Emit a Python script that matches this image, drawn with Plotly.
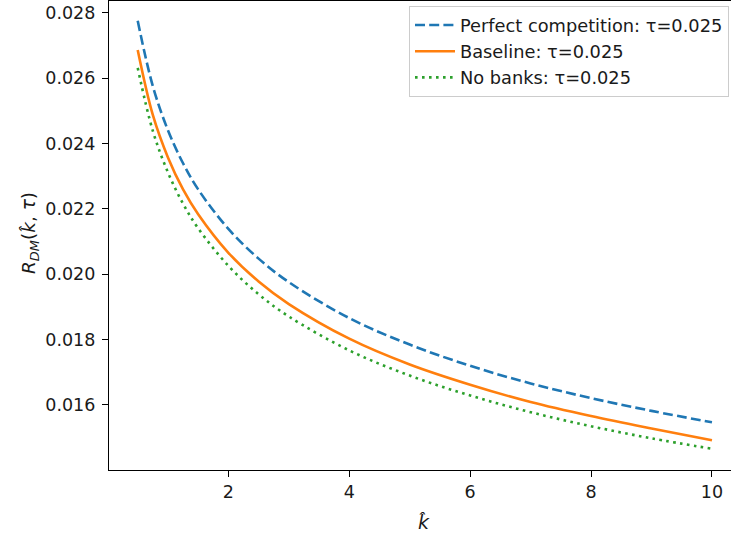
import plotly.graph_objects as go

# Data
k_hat = [0.5, 0.75, 1.0, 1.25, 1.5, 2.0, 2.5, 3.0, 4.0, 5.0, 6.0, 7.0, 8.0, 9.0, 10.0]
perfect = [0.02776, 0.02576, 0.02441, 0.02340, 0.02260, 0.02139, 0.02048, 0.01976,
           0.01866, 0.01785, 0.01720, 0.01666, 0.01621, 0.01582, 0.01547]
baseline = [0.02687, 0.02488, 0.02358, 0.02260, 0.02184, 0.02066, 0.01978, 0.01909,
            0.01803, 0.01724, 0.01662, 0.01609, 0.01566, 0.01528, 0.01492]
no_banks = [0.02632, 0.02439, 0.02312, 0.02216, 0.02141, 0.02026, 0.01939, 0.01871,
            0.01767, 0.01690, 0.01629, 0.01578, 0.01535, 0.01498, 0.01466]
x_ticks = [2, 4, 6, 8, 10]
y_ticks = [0.016, 0.018, 0.020, 0.022, 0.024, 0.026, 0.028]

FONT = "DejaVu Sans"
FS = 17.5
TXT = "#1a1a1a"

fig = go.Figure()
fig.add_trace(go.Scatter(x=k_hat, y=perfect, mode="lines", name="Perfect competition: τ=0.025",
                         line=dict(color="#1f77b4", width=2.6, dash="10px,4.2px", shape="spline")))
fig.add_trace(go.Scatter(x=k_hat, y=baseline, mode="lines", name="Baseline: τ=0.025",
                         line=dict(color="#ff7f0e", width=2.6, shape="spline")))
fig.add_trace(go.Scatter(x=k_hat, y=no_banks, mode="lines", name="No banks: τ=0.025",
                         line=dict(color="#2ca02c", width=2.6, dash="2.6px,4.4px", shape="spline")))

L, R, T, B = 109, 0, 1, 70
W, H = 731, 540
pw = W - L - R
ph = H - T - B

fig.update_layout(
    width=W, height=H,
    margin=dict(l=L, r=R, t=T, b=B, pad=0),
    paper_bgcolor="white", plot_bgcolor="white",
    font=dict(family=FONT, size=FS, color=TXT),
    showlegend=True,
    legend=dict(x=(409 - L) / pw, y=1 - (6 - T) / ph, xanchor="left", yanchor="top",
                bgcolor="rgba(255,255,255,0.8)", bordercolor="#cccccc", borderwidth=1,
                font=dict(family=FONT, size=17.8, color=TXT), itemwidth=40,
                tracegroupgap=0),
    xaxis=dict(range=[0.025, 10.315], tickvals=x_ticks, ticktext=[str(v) for v in x_ticks],
               showgrid=False, zeroline=False, showline=True, linecolor="black", linewidth=1.2,
               mirror=True, ticks="outside", ticklen=6, tickwidth=1.2, tickcolor="black",
               tickfont=dict(family=FONT, size=FS, color=TXT)),
    yaxis=dict(range=[0.014010, 0.028367], tickvals=y_ticks, ticktext=[f"{v:.3f}" for v in y_ticks],
               showgrid=False, zeroline=False, showline=True, linecolor="black", linewidth=1.2,
               ticks="outside", ticklen=6, tickwidth=1.2, tickcolor="black",
               ticklabelstandoff=3,
               tickfont=dict(family=FONT, size=FS, color=TXT)),
    annotations=[
        dict(text="<i>k̂</i>", xref="paper", yref="paper", x=(424 - L) / pw, y=-(522 - (H - B)) / ph,
             showarrow=False, xanchor="center", yanchor="middle",
             font=dict(family=FONT, size=19, color=TXT)),
        dict(text="<i>R</i><sub><i>DM</i></sub>(<i>k̂</i>, <i>τ</i>)", xref="paper", yref="paper",
             x=-(L - 30) / pw, y=1 - (233 - T) / ph, textangle=-90,
             showarrow=False, xanchor="center", yanchor="middle",
             font=dict(family=FONT, size=18.5, color=TXT)),
    ],
)

fig.write_html("out.html")
